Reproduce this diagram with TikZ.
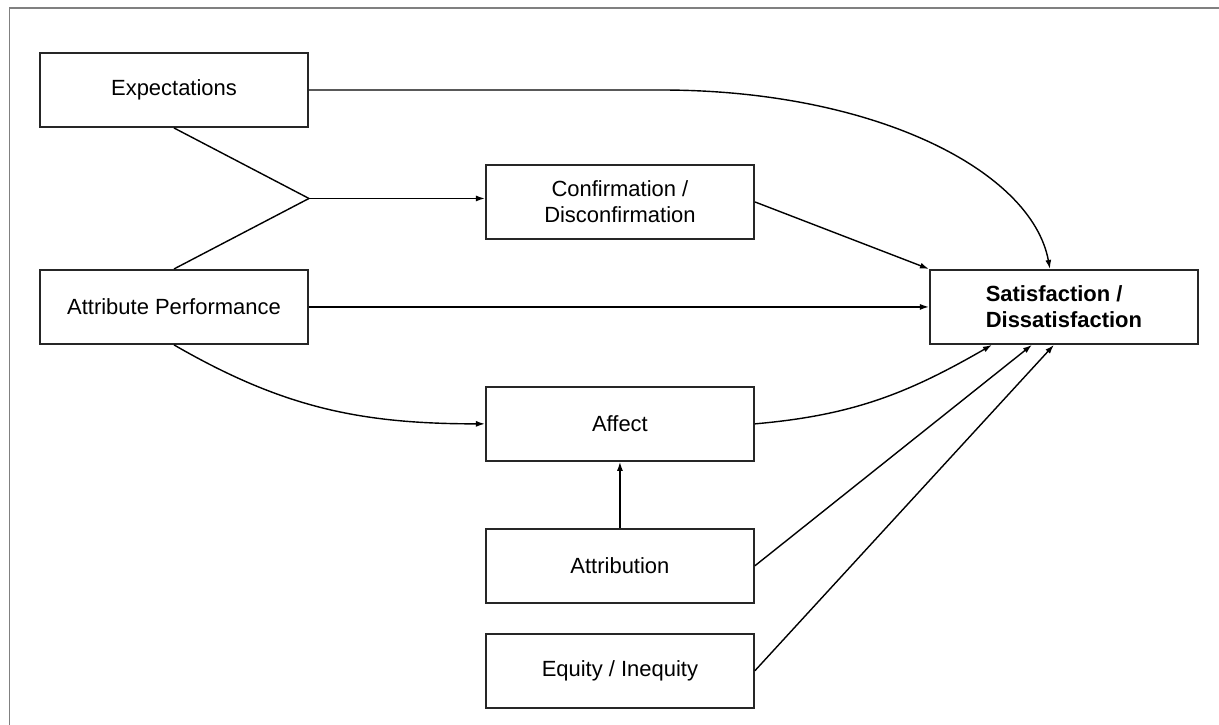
\documentclass[tikz,border=0pt]{standalone}
\usepackage{fontspec}
\setmainfont{Liberation Sans}
\usepackage{tikz}
\usetikzlibrary{positioning,calc,arrows.meta}
\tikzset{box/.style={draw=black!85, line width=1.1pt, align=center,
        minimum width=5.36cm, minimum height=1.48cm, inner sep=0pt,
        font=\fontsize{12.5}{15}\selectfont}}

\begin{document}
\begin{tikzpicture}[>={Latex[length=1.8mm,width=1.2mm]}, line width=0.8pt]
        \useasboundingbox (0,0) rectangle (24.38,-14.5);
        \draw[gray, line width=0.9pt] (0.19,-14.5) -- (0.19,-0.16) -- (24.38,-0.16);

        \node[box] (0) at (3.48,-1.8) {Expectations};

        \node[box, below=2.82cm of 0] (1) {Attribute Performance};

        \node[box, below right=0.72cm and 3.52cm of 0] (2)
            {Confirmation /\\ Disconfirmation};

        \node[box, below=2.92cm of 2] (3) {Affect};

        \node[box, below=1.32cm of 3] (4) {Attribution};

        \node[box, below=0.58cm of 4] (5) {Equity / Inequity};

        \node[box, align=left, right=12.4cm of 1,
            font=\fontsize{12.5}{15}\selectfont\bfseries] (6)
            {Satisfaction /\\ Dissatisfaction};

        \coordinate (j) at ($(0.east)!0.5!(1.east)$);
        \draw (0.south) -- (j);
        \draw (1.north) -- (j);
        \draw[->] (j) -- (j -| 2.west);

        \draw[->] (0.east) -- ++(7.04,0)
            .. controls +(4.28,0) and +(-0.36,1.96) .. ([xshift=-0.28cm]6.north);
        \draw[->] (2.east) -- (6.north west);
        \draw[->] (1) -- (6);
        \draw[->] (1.south) to[out=-30, in=180] (3.west);
        \draw[->] (3.east) to[out=5, in=-150] ([xshift=-1.44cm]6.south);
        \draw[->] (4.east) -- ([xshift=-0.64cm]6.south);
        \draw[->] (5.east) -- ([xshift=-0.2cm]6.south);
        \draw[->] (4) -- (3);

    \end{tikzpicture}
\end{document}
